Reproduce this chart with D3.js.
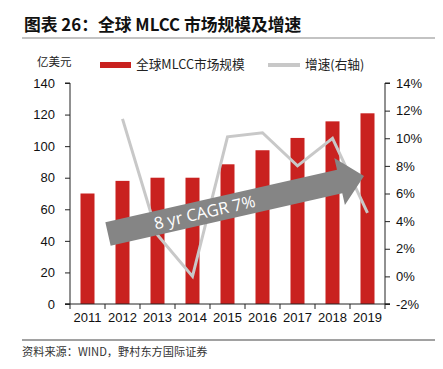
<!DOCTYPE html>
<html><head><meta charset="utf-8">
<script src="https://cdn.jsdelivr.net/npm/d3@7"></script>
<style>body{margin:0;background:#fff}svg{display:block}</style>
</head><body>
<script>
const years = ["2011","2012","2013","2014","2015","2016","2017","2018","2019"];
const marketSize = [70, 78, 80, 80, 88.5, 97.4, 105.2, 115.7, 120.8];
const growth = [null, 11.4, 3.0, 0.0, 10.1, 10.4, 8.0, 10.0, 4.6];
const leftTicks = [0,20,40,60,80,100,120,140];
const rightTicks = [-2,0,2,4,6,8,10,12,14];
const titleText = "图表 26：全球 MLCC 市场规模及增速";
const unitText = "亿美元";
const legendBar = "全球MLCC市场规模";
const legendLine = "增速(右轴)";
const arrowText = "8 yr CAGR 7%";
const sourceText = "资料来源：WIND，野村东方国际证券";

const W=443,H=369;
const m={l:70,r:385,t:83,b:304};
const svg=d3.select("body").append("svg").attr("width",W).attr("height",H);
const cjk='"Noto Sans CJK SC","Noto Sans",sans-serif';
const num='"Liberation Sans",Arial,sans-serif';

svg.append("text").attr("x",24).attr("y",31).text(titleText)
  .attr("font-family",cjk).attr("font-weight","bold").attr("font-size",16.8).attr("fill","#111");
svg.append("line").attr("x1",22).attr("x2",435).attr("y1",38).attr("y2",38).attr("stroke","#888").attr("stroke-width",1.2);

const xb=d3.scaleBand().domain(years).range([m.l,m.r]);
const yL=d3.scaleLinear().domain([0,140]).range([m.b,m.t]);
const yR=d3.scaleLinear().domain([-2,14]).range([m.b,m.t]);

// bars
svg.append("g").selectAll("rect").data(years).join("rect")
  .attr("x",d=>xb(d)+xb.bandwidth()/2-7).attr("width",14)
  .attr("y",(d,i)=>yL(marketSize[i])).attr("height",(d,i)=>m.b-yL(marketSize[i]))
  .attr("fill","#c9211f");

// line
const line=d3.line().defined(d=>d.v!=null).x(d=>xb(d.y)+xb.bandwidth()/2).y(d=>yR(d.v));
svg.append("path").datum(years.map((y,i)=>({y,v:growth[i]})))
  .attr("d",line).attr("fill","none").attr("stroke","#c8c8c8").attr("stroke-width",3);

// arrow
const x0=108,y0=234,x1=364,y1=176;
const ang=Math.atan2(y1-y0,x1-x0)*180/Math.PI;
const L=Math.hypot(x1-x0,y1-y0);
const sw=12, hw=24, hl=25;
const ag=svg.append("g").attr("transform",`translate(${x0},${y0}) rotate(${ang})`);
ag.append("path").attr("d",`M0,${-sw}L${L-hl},${-sw}L${L-hl},${-hw}L${L},0L${L-hl},${hw}L${L-hl},${sw}L0,${sw}Z`)
  .attr("fill","#858585");
ag.append("text").attr("x",99).attr("y",6).attr("text-anchor","middle").text(arrowText)
  .attr("font-family",'"Open Sans",Lato,sans-serif').attr("font-size",16.5).attr("fill","#fff");

// axes
const axL=d3.axisLeft(yL).tickValues(leftTicks).tickSize(5).tickPadding(10);
const gL=svg.append("g").attr("transform",`translate(${m.l},0)`).call(axL);
const axR=d3.axisRight(yR).tickValues(rightTicks).tickSize(5).tickFormat(d=>d+"%").tickPadding(6);
const gR=svg.append("g").attr("transform",`translate(${m.r},0)`).call(axR);
const axB=d3.axisBottom(xb).tickSize(0).tickPadding(9);
const gB=svg.append("g").attr("transform",`translate(0,${m.b})`).call(axB);
svg.append("g").selectAll("line").data(d3.range(years.length+1)).join("line")
  .attr("x1",i=>m.l+i*xb.step()).attr("x2",i=>m.l+i*xb.step())
  .attr("y1",m.b).attr("y2",m.b+5).attr("stroke","#222");
[gL,gR,gB].forEach(g=>{
  g.select(".domain").attr("stroke","#222");
  g.selectAll(".tick line").attr("stroke","#222");
  g.selectAll("text").attr("font-family",num).attr("font-size",13).attr("fill","#111");
});
gL.select(".domain").attr("d",`M-5,${m.t}H0V${m.b}H-5`);
gR.select(".domain").attr("d",`M5,${m.t}H0V${m.b}H5`);
gB.select(".domain").attr("d",`M${m.l-5},0H${m.r+5}`);

// legend
svg.append("text").attr("x",37).attr("y",66).text(unitText)
  .attr("font-family",cjk).attr("font-size",11.5).attr("fill","#222");
svg.append("rect").attr("x",100).attr("y",62).attr("width",31).attr("height",6).attr("fill","#c9211f");
svg.append("text").attr("x",136).attr("y",69).text(legendBar)
  .attr("font-family",cjk).attr("font-size",12.7).attr("fill","#222");
svg.append("line").attr("x1",268).attr("x2",300).attr("y1",65).attr("y2",65).attr("stroke","#c8c8c8").attr("stroke-width",4);
svg.append("text").attr("x",305).attr("y",69).text(legendLine)
  .attr("font-family",cjk).attr("font-size",12.7).attr("fill","#222");

// footer
svg.append("line").attr("x1",22).attr("x2",435).attr("y1",340).attr("y2",340).attr("stroke","#444").attr("stroke-width",1);
svg.append("text").attr("x",22).attr("y",356).text(sourceText)
  .attr("font-family",cjk).attr("font-size",11.2).attr("fill","#333");
</script>
</body></html>
